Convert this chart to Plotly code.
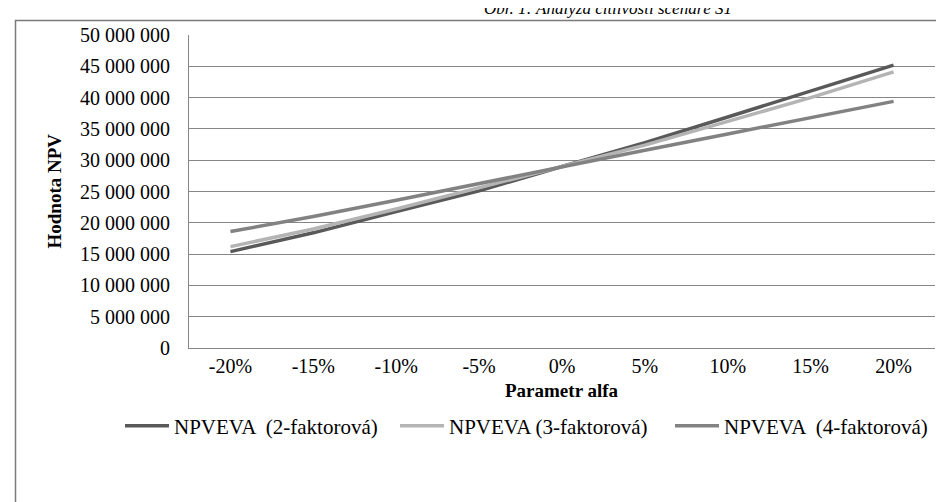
import plotly.graph_objects as go

categories = ["-20%", "-15%", "-10%", "-5%", "0%", "5%", "10%", "15%", "20%"]
npv_2f = [15.4e6, 18.4e6, 21.8e6, 25.1e6, 29.0e6, 32.8e6, 36.9e6, 41.0e6, 45.2e6]
npv_3f = [16.2e6, 19.0e6, 22.2e6, 25.6e6, 29.0e6, 32.4e6, 36.2e6, 40.0e6, 44.1e6]
npv_4f = [18.6e6, 21.0e6, 23.6e6, 26.3e6, 29.0e6, 31.6e6, 34.2e6, 36.8e6, 39.4e6]
series_names = ["NPVEVA  (2-faktorová)", "NPVEVA (3-faktorová)", "NPVEVA  (4-faktorová)"]
y_ticks = [0, 5e6, 10e6, 15e6, 20e6, 25e6, 30e6, 35e6, 40e6, 45e6, 50e6]
title_text = "Obr. 1: Analýza citlivosti scenáře S1"

FONT = "Liberation Serif"
colors = ["#595959", "#b4b4b4", "#828282"]

fig = go.Figure()
for vals, name, col in zip([npv_2f, npv_3f, npv_4f], series_names, colors):
    fig.add_trace(go.Scatter(x=categories, y=vals, name=name, mode="lines",
                             line=dict(color=col, width=3.5)))

W, H = 944, 502
L, R, T, B = 181, 17, 27, 162
pw, ph = W - L - R, H - T - B

def px_x(px):
    return (px - L) / pw

def px_y(py):
    return (H - B - py) / ph

fig.update_layout(
    width=W, height=H,
    margin=dict(l=L, r=R, t=T, b=B),
    paper_bgcolor="white", plot_bgcolor="white",
    font=dict(family=FONT, size=20, color="black"),
    separators=", ",
    showlegend=True,
    legend=dict(orientation="h", x=px_x(112), xanchor="left", y=px_y(418), yanchor="middle",
                font=dict(family=FONT, size=21, color="black"),
                bgcolor="rgba(0,0,0,0)", itemwidth=44, tracegroupgap=0,
                entrywidth=216, entrywidthmode="pixels"),
    xaxis=dict(type="category", range=[-0.5, 8.5], showgrid=False, showline=True,
               linecolor="#868686", linewidth=1,
               ticks="", ticklabelstandoff=0,
               tickfont=dict(family=FONT, size=20), zeroline=False),
    yaxis=dict(range=[0, 50e6], tickvals=y_ticks, tickformat=",d",
               showgrid=True, gridcolor="#868686", gridwidth=1,
               showline=True, linecolor="#868686", linewidth=1,
               ticks="outside", ticklen=14, tickcolor="rgba(0,0,0,0)",
               tickfont=dict(family=FONT, size=20), zeroline=False),
)

fig.add_annotation(text="<b>Parametr alfa</b>", xref="paper", yref="paper",
                   x=0.5, y=px_y(382), xanchor="center", yanchor="middle",
                   showarrow=False, font=dict(family=FONT, size=19))
fig.add_annotation(text="<b>Hodnota NPV</b>", xref="paper", yref="paper",
                   x=px_x(46), y=0.5, xanchor="center", yanchor="middle", textangle=-90,
                   showarrow=False, font=dict(family=FONT, size=19))
fig.add_annotation(text="<i>" + title_text + "</i>", xref="paper", yref="paper",
                   x=px_x(600), y=px_y(0), xanchor="center", yanchor="middle",
                   showarrow=False, font=dict(family=FONT, size=17))

fig.add_shape(type="rect", xref="paper", yref="paper",
              x0=px_x(7.5), x1=px_x(960), y0=px_y(520), y1=px_y(12.5),
              line=dict(color="#7a7a7a", width=1.5), fillcolor="rgba(0,0,0,0)", layer="below")

fig.write_html("out.html")
